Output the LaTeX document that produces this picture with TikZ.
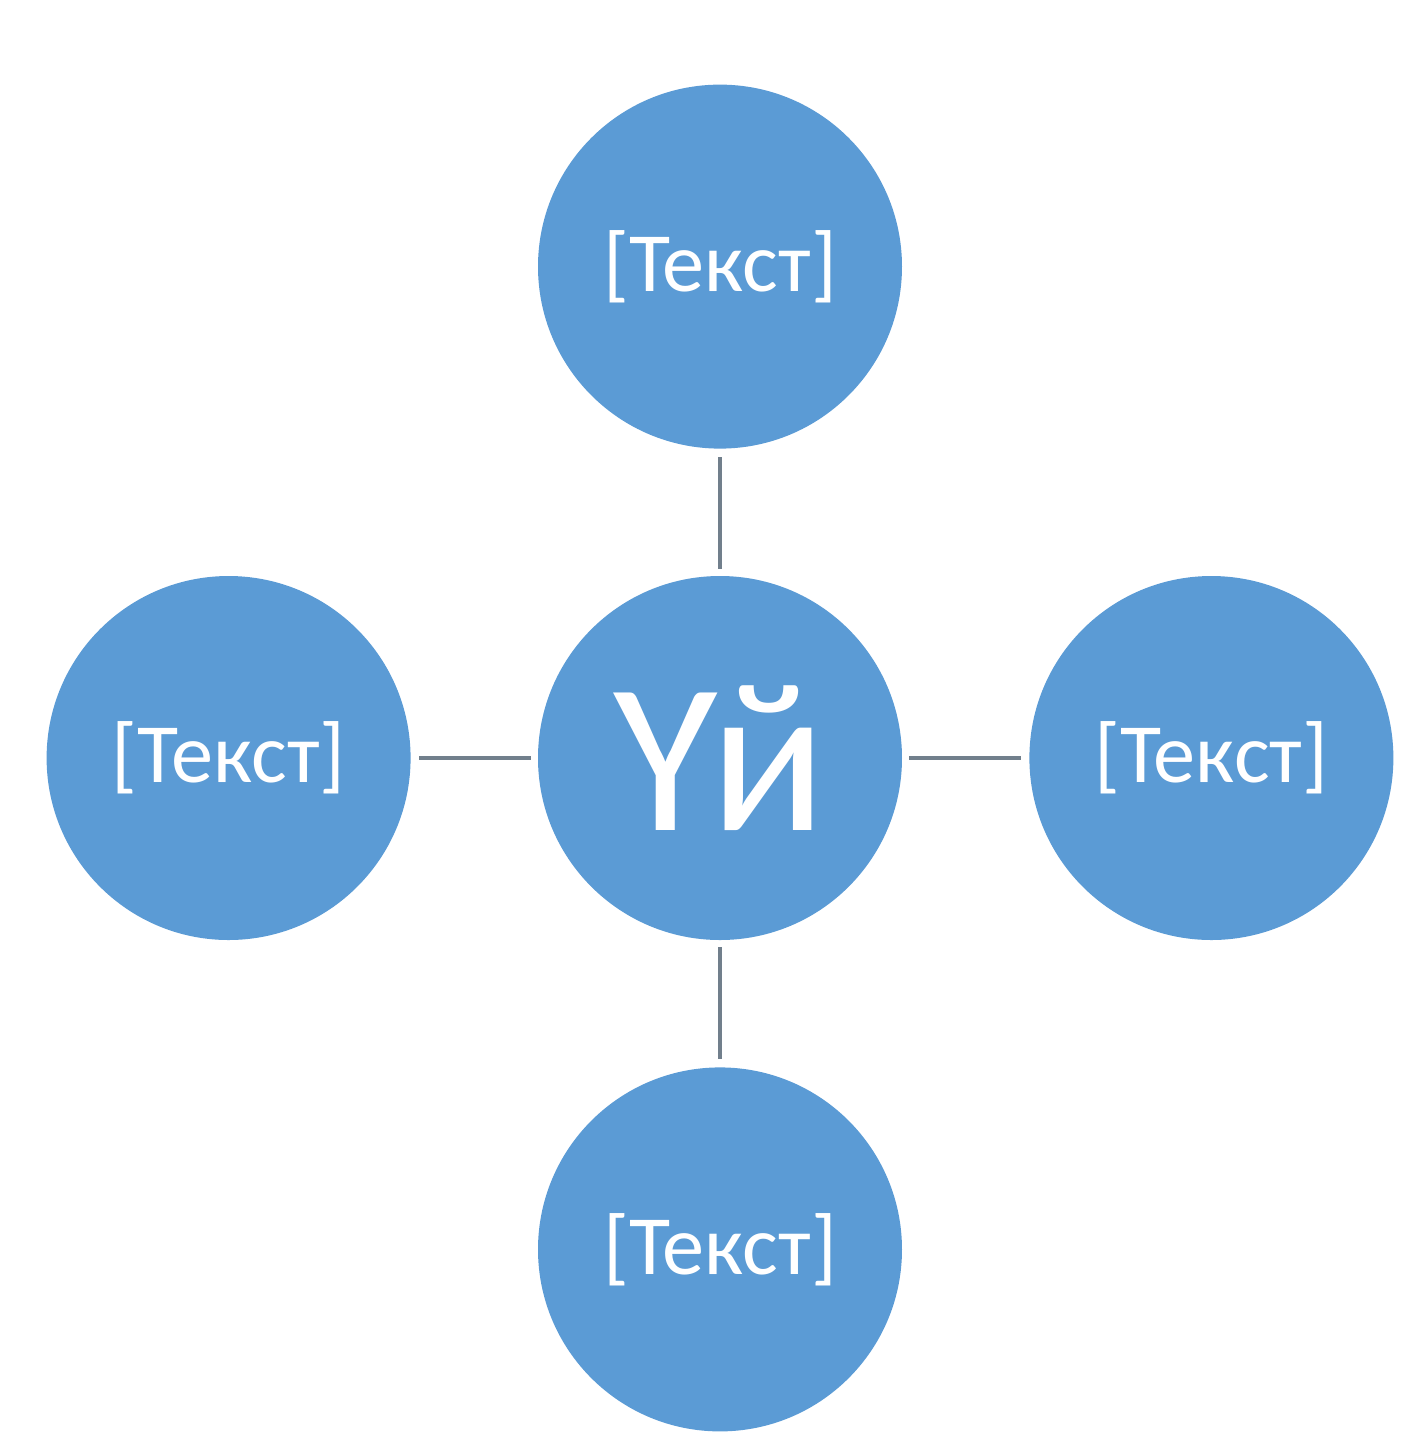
\documentclass[tikz,border=0pt]{standalone}
\usepackage{fontspec}
\setmainfont{Carlito}
\usepackage{xcolor}
\usetikzlibrary{positioning}
\definecolor{DiscBlue}{HTML}{5B9BD5}
\definecolor{LinkGrey}{HTML}{717F8C}
\def\DiscSize{3.64cm}
\def\DiscGap{1.26cm}

\begin{document}
\begin{tikzpicture}[
		disc/.style={circle,fill=DiscBlue,draw=none,minimum size=\DiscSize,inner sep=0pt,text=white,font=\fontsize{24}{28}\selectfont},
		link/.style={draw=LinkGrey,line width=1.1pt,shorten <=0.08cm,shorten >=0.06cm}
	]
			\useasboundingbox (0,0) rectangle (14.09,-14.45);
			\node[disc,font=\fontsize{61}{70}\selectfont] (hub) at (7.20,-7.58) {Үй};
			% 
			\node[disc,above=\DiscGap of hub] (top) {[Текст]};
			\node[disc,left=\DiscGap of hub] (lft) {[Текст]};
			\node[disc,right=\DiscGap of hub] (rgt) {[Текст]};
			\node[disc,below=\DiscGap of hub] (bot) {[Текст]};
			% 
			\draw[link] (top) -- (hub);
			\draw[link] (lft) -- (hub);
			\draw[link] (rgt) -- (hub);
			\draw[link] (bot) -- (hub);
		\end{tikzpicture}
\end{document}
